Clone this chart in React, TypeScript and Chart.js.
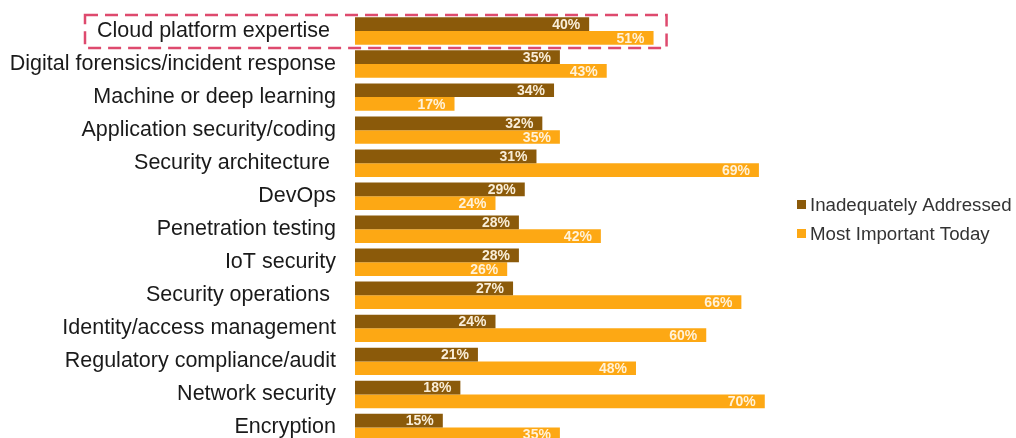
import React, { useEffect, useRef } from "react";
import { Chart, registerables } from "chart.js";

Chart.register(...registerables);

const categories = [
  "Cloud platform expertise ",
  "Digital forensics/incident response",
  "Machine or deep learning",
  "Application security/coding",
  "Security architecture ",
  "DevOps",
  "Penetration testing",
  "IoT security",
  "Security operations ",
  "Identity/access management",
  "Regulatory compliance/audit",
  "Network security",
  "Encryption",
];

const inadequatelyAddressed = [40, 35, 34, 32, 31, 29, 28, 28, 27, 24, 21, 18, 15];
const mostImportantToday = [51, 43, 17, 35, 69, 24, 42, 26, 66, 60, 48, 70, 35];

const seriesNames = ["Inadequately Addressed", "Most Important Today"];
const seriesColors = ["#8b5a0a", "#fda814"];
const highlightedIndex = 0;

const FONT = "'Liberation Sans', Arial, sans-serif";

const valueLabels = {
  id: "valueLabels",
  afterDatasetsDraw(chart: any) {
    const ctx = chart.ctx;
    ctx.save();
    ctx.font = `bold 14px ${FONT}`;
    ctx.fillStyle = "rgba(255,246,228,0.95)";
    ctx.textAlign = "right";
    ctx.textBaseline = "middle";
    chart.data.datasets.forEach((ds: any, di: number) => {
      const meta = chart.getDatasetMeta(di);
      meta.data.forEach((el: any, i: number) => {
        ctx.fillText(`${ds.data[i]}%`, el.x - 9, el.y + 1);
      });
    });
    ctx.restore();
  },
};

const customLegend = {
  id: "customLegend",
  afterDraw(chart: any) {
    const ctx = chart.ctx;
    ctx.save();
    ctx.font = `18.7px ${FONT}`;
    ctx.textBaseline = "middle";
    ctx.textAlign = "left";
    chart.data.datasets.forEach((ds: any, di: number) => {
      const y = 204.5 + di * 29;
      ctx.fillStyle = ds.backgroundColor;
      ctx.fillRect(797, y - 4.5, 9, 9);
      ctx.fillStyle = "#333333";
      ctx.fillText(ds.label, 810, y + 1);
    });
    ctx.restore();
  },
};

const highlightBox = {
  id: "highlightBox",
  afterDraw(chart: any) {
    const ctx = chart.ctx;
    const yc = chart.scales.y.getPixelForValue(highlightedIndex);
    const xr = chart.scales.x.getPixelForValue(mostImportantToday[highlightedIndex]) + 13;
    ctx.save();
    ctx.strokeStyle = "#de4a6e";
    ctx.lineWidth = 2.5;
    ctx.setLineDash([13, 7]);
    ctx.strokeRect(85, yc - 16, xr - 85, 33);
    ctx.restore();
  },
};

export default function App() {
  const ref = useRef<HTMLCanvasElement>(null);

  useEffect(() => {
    if (!ref.current) return;
    const chart = new Chart(ref.current, {
      type: "bar",
      data: {
        labels: categories,
        datasets: [
          {
            label: seriesNames[0],
            data: inadequatelyAddressed,
            backgroundColor: seriesColors[0],
            categoryPercentage: 0.83,
            barPercentage: 1,
          },
          {
            label: seriesNames[1],
            data: mostImportantToday,
            backgroundColor: seriesColors[1],
            categoryPercentage: 0.83,
            barPercentage: 1,
          },
        ],
      },
      options: {
        indexAxis: "y",
        responsive: false,
        animation: false,
        layout: { padding: { top: 14.5, bottom: 0, left: 0, right: 236 } },
        plugins: {
          legend: { display: false },
          tooltip: { enabled: false },
        },
        scales: {
          x: {
            display: false,
            min: 0,
            max: 72.6,
          },
          y: {
            grid: { display: false, drawTicks: false },
            border: { display: false },
            ticks: {
              color: "#1a1a1a",
              font: { family: FONT, size: 21.5 },
              padding: 19,
              autoSkip: false,
            },
            afterFit(scale: any) {
              scale.width = 355;
              scale.paddingTop = 0;
              scale.paddingBottom = 0;
              scale.paddingLeft = 0;
              scale.paddingRight = 0;
            },
          },
        },
      },
      plugins: [valueLabels, customLegend, highlightBox],
    });
    return () => chart.destroy();
  }, []);

  return (
    <div
      style={{
        position: "fixed",
        left: 0,
        top: 0,
        width: 1016,
        height: 438,
        overflow: "hidden",
        background: "#fff",
      }}
    >
      <canvas ref={ref} width={1016} height={444} style={{ width: 1016, height: 444 }} />
    </div>
  );
}
